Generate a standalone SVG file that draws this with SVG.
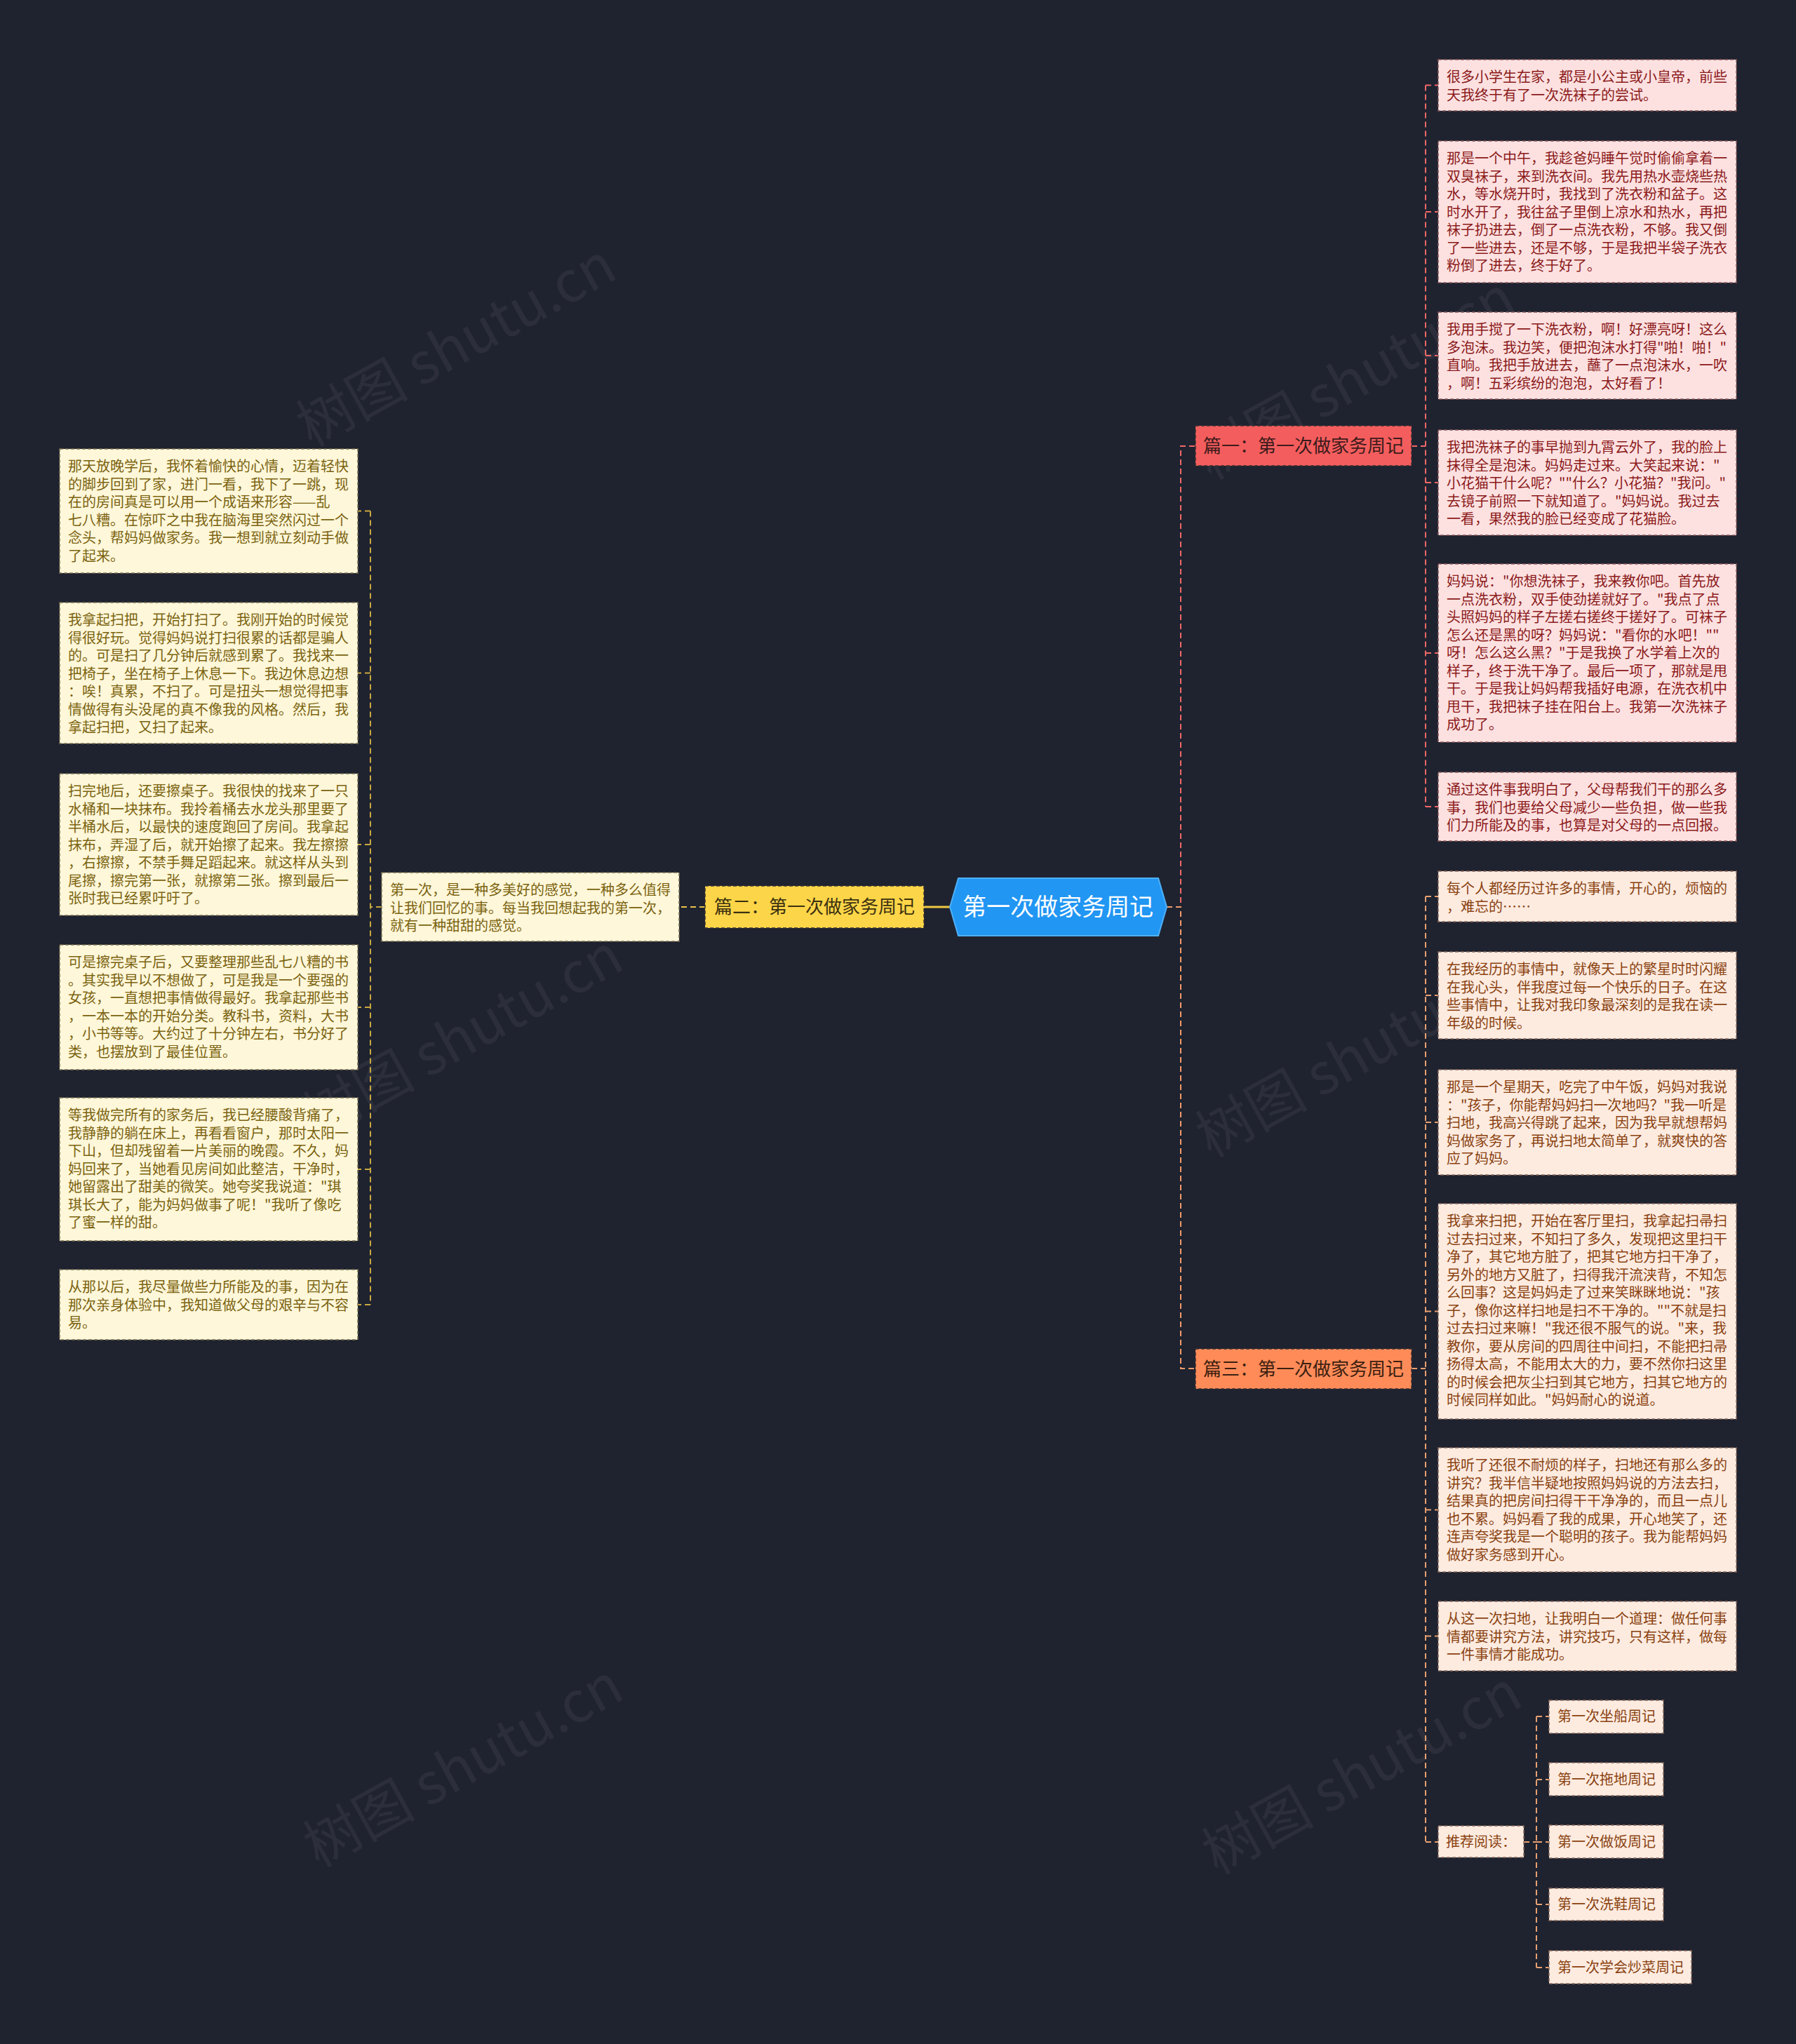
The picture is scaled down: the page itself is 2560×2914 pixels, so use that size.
<svg xmlns="http://www.w3.org/2000/svg" width="2560" height="2914" viewBox="0 0 2560 2914">
<defs>
<style>
.t{font-family:"Noto Sans CJK SC","Noto Sans",sans-serif;font-size:20px}
.pk rect{fill:#fde1e1;stroke:#8a5a5a;stroke-width:1.5;stroke-dasharray:5 3}
.pk text{fill:#8b1a1a}
.pc rect{fill:#fdebe0;stroke:#8a6a5a;stroke-width:1.5;stroke-dasharray:5 3}
.pc text{fill:#8a4210}
.cr rect{fill:#fff7d9;stroke:#7a7050;stroke-width:1.5;stroke-dasharray:5 3}
.cr text{fill:#7a6310}
.br{font-family:"Noto Sans CJK SC","Noto Sans",sans-serif;font-size:26px;text-anchor:middle}
.brr{stroke:#3a3030;stroke-width:1.5;stroke-dasharray:5 3}
.c{fill:none;stroke-width:2;stroke-dasharray:8 5}
.wm{font-family:"Noto Sans CJK SC","Noto Sans",sans-serif;font-size:80px;fill:#b0b0b0;fill-opacity:0.09}
</style>
</defs>
<rect width="2560" height="2914" fill="#1f2330"/>

<g id="watermarks">
<text class="wm" x="650" y="520" text-anchor="middle" transform="rotate(-29 650 492)">树图 shutu.cn</text>
<text class="wm" x="660" y="1505" text-anchor="middle" transform="rotate(-29 660 1477)">树图 shutu.cn</text>
<text class="wm" x="660" y="2545" text-anchor="middle" transform="rotate(-29 660 2517)">树图 shutu.cn</text>
<text class="wm" x="1932" y="567" text-anchor="middle" transform="rotate(-29 1932 539)">树图 shutu.cn</text>
<text class="wm" x="1932" y="1533" text-anchor="middle" transform="rotate(-29 1932 1505)">树图 shutu.cn</text>
<text class="wm" x="1941" y="2555" text-anchor="middle" transform="rotate(-29 1941 2527)">树图 shutu.cn</text>
</g>

<g id="connectors">
<path d="M1317,1293 H1354" fill="none" stroke="#f0c940" stroke-width="3"/>
<path class="c" d="M1005,1293 H968" stroke="#e8c24a"/>
<path class="c" d="M544,1293 H528 M528,728.5 V1860 M528,728.5 H510 M528,959.5 H510 M528,1204 H510 M528,1436 H510 M528,1667 H510 M528,1860 H510" stroke="#c8a840"/>
<path class="c" d="M1663,1293 H1683 V636 H1704" stroke="#f06868"/>
<path class="c" d="M1663,1293 H1683 V1951 H1704" stroke="#f29a6a"/>
<path class="c" d="M2012,636 H2032 M2032,121.5 V1150 M2032,121.5 H2050 M2032,302 H2050 M2032,507 H2050 M2032,688 H2050 M2032,931 H2050 M2032,1150 H2050" stroke="#f06868"/>
<path class="c" d="M2012,1951 H2032 M2032,1278 V2626 M2032,1278 H2050 M2032,1419 H2050 M2032,1600 H2050 M2032,1869.5 H2050 M2032,2152.5 H2050 M2032,2332.5 H2050 M2032,2626 H2050" stroke="#e8a070"/>
<path class="c" d="M2172,2626 H2190 M2190,2447 V2805 M2190,2447 H2208 M2190,2537 H2208 M2190,2626 H2208 M2190,2715 H2208 M2190,2805 H2208" stroke="#e8a070"/>
</g>

<g id="root">
<path d="M1366,1252 H1651 L1663,1293 L1651,1334 H1366 L1354,1293 Z" fill="#2196f3" stroke="#4fb0f8" stroke-width="2"/>
<text x="1508" y="1305" font-family="'Noto Sans CJK SC','Noto Sans',sans-serif" font-size="34" fill="#ffffff" text-anchor="middle">第一次做家务周记</text>
</g>

<g id="branch1">
<rect class="brr" x="1704" y="607" width="308" height="57" fill="#f45d5d"/>
<text class="br" x="1858" y="645" fill="#3b1b1b">篇一：第一次做家务周记</text>
</g>
<g id="branch2">
<rect class="brr" x="1005" y="1263" width="312" height="60" fill="#fdd548"/>
<text class="br" x="1161" y="1302" fill="#3b3010">篇二：第一次做家务周记</text>
</g>
<g id="branch3">
<rect class="brr" x="1704" y="1923" width="308" height="57" fill="#ff8b58"/>
<text class="br" x="1858" y="1961" fill="#3b2010">篇三：第一次做家务周记</text>
</g>

<g id="b2-intro" class="cr">
<rect x="544" y="1244" width="424" height="98"/>
<text class="t"><tspan x="556" y="1276">第一次，是一种多美好的感觉，一种多么值得</tspan><tspan x="556" y="1301.5">让我们回忆的事。每当我回想起我的第一次，</tspan><tspan x="556" y="1327">就有一种甜甜的感觉。</tspan></text>
</g>

<g id="l1" class="cr">
<rect x="85" y="640" width="425" height="177"/>
<text class="t"><tspan x="97" y="672">那天放晚学后，我怀着愉快的心情，迈着轻快</tspan><tspan x="97" y="697.5">的脚步回到了家，进门一看，我下了一跳，现</tspan><tspan x="97" y="723">在的房间真是可以用一个成语来形容——乱</tspan><tspan x="97" y="748.5">七八糟。在惊吓之中我在脑海里突然闪过一个</tspan><tspan x="97" y="774">念头，帮妈妈做家务。我一想到就立刻动手做</tspan><tspan x="97" y="799.5">了起来。</tspan></text>
</g>
<g id="l2" class="cr">
<rect x="85" y="859" width="425" height="201"/>
<text class="t"><tspan x="97" y="891">我拿起扫把，开始打扫了。我刚开始的时候觉</tspan><tspan x="97" y="916.5">得很好玩。觉得妈妈说打扫很累的话都是骗人</tspan><tspan x="97" y="942">的。可是扫了几分钟后就感到累了。我找来一</tspan><tspan x="97" y="967.5">把椅子，坐在椅子上休息一下。我边休息边想</tspan><tspan x="97" y="993">：唉！真累，不扫了。可是扭头一想觉得把事</tspan><tspan x="97" y="1018.5">情做得有头没尾的真不像我的风格。然后，我</tspan><tspan x="97" y="1044">拿起扫把，又扫了起来。</tspan></text>
</g>
<g id="l3" class="cr">
<rect x="85" y="1103" width="425" height="202"/>
<text class="t"><tspan x="97" y="1135">扫完地后，还要擦桌子。我很快的找来了一只</tspan><tspan x="97" y="1160.5">水桶和一块抹布。我拎着桶去水龙头那里要了</tspan><tspan x="97" y="1186">半桶水后，以最快的速度跑回了房间。我拿起</tspan><tspan x="97" y="1211.5">抹布，弄湿了后，就开始擦了起来。我左擦擦</tspan><tspan x="97" y="1237">，右擦擦，不禁手舞足蹈起来。就这样从头到</tspan><tspan x="97" y="1262.5">尾擦，擦完第一张，就擦第二张。擦到最后一</tspan><tspan x="97" y="1288">张时我已经累吁吁了。</tspan></text>
</g>
<g id="l4" class="cr">
<rect x="85" y="1347" width="425" height="178"/>
<text class="t"><tspan x="97" y="1379">可是擦完桌子后，又要整理那些乱七八糟的书</tspan><tspan x="97" y="1404.5">。其实我早以不想做了，可是我是一个要强的</tspan><tspan x="97" y="1430">女孩，一直想把事情做得最好。我拿起那些书</tspan><tspan x="97" y="1455.5">，一本一本的开始分类。教科书，资料，大书</tspan><tspan x="97" y="1481">，小书等等。大约过了十分钟左右，书分好了</tspan><tspan x="97" y="1506.5">类，也摆放到了最佳位置。</tspan></text>
</g>
<g id="l5" class="cr">
<rect x="85" y="1565" width="425" height="204"/>
<text class="t"><tspan x="97" y="1597">等我做完所有的家务后，我已经腰酸背痛了，</tspan><tspan x="97" y="1622.5">我静静的躺在床上，再看看窗户，那时太阳一</tspan><tspan x="97" y="1648">下山，但却残留着一片美丽的晚霞。不久，妈</tspan><tspan x="97" y="1673.5">妈回来了，当她看见房间如此整洁，干净时，</tspan><tspan x="97" y="1699">她留露出了甜美的微笑。她夸奖我说道："琪</tspan><tspan x="97" y="1724.5">琪长大了，能为妈妈做事了呢！"我听了像吃</tspan><tspan x="97" y="1750">了蜜一样的甜。</tspan></text>
</g>
<g id="l6" class="cr">
<rect x="85" y="1810" width="425" height="100"/>
<text class="t"><tspan x="97" y="1842">从那以后，我尽量做些力所能及的事，因为在</tspan><tspan x="97" y="1867.5">那次亲身体验中，我知道做父母的艰辛与不容</tspan><tspan x="97" y="1893">易。</tspan></text>
</g>

<g id="c1" class="pk">
<rect x="2050" y="85" width="425" height="73"/>
<text class="t"><tspan x="2062" y="117">很多小学生在家，都是小公主或小皇帝，前些</tspan><tspan x="2062" y="142.5">天我终于有了一次洗袜子的尝试。</tspan></text>
</g>
<g id="c2" class="pk">
<rect x="2050" y="201" width="425" height="202"/>
<text class="t"><tspan x="2062" y="233">那是一个中午，我趁爸妈睡午觉时偷偷拿着一</tspan><tspan x="2062" y="258.5">双臭袜子，来到洗衣间。我先用热水壶烧些热</tspan><tspan x="2062" y="284">水，等水烧开时，我找到了洗衣粉和盆子。这</tspan><tspan x="2062" y="309.5">时水开了，我往盆子里倒上凉水和热水，再把</tspan><tspan x="2062" y="335">袜子扔进去，倒了一点洗衣粉，不够。我又倒</tspan><tspan x="2062" y="360.5">了一些进去，还是不够，于是我把半袋子洗衣</tspan><tspan x="2062" y="386">粉倒了进去，终于好了。</tspan></text>
</g>
<g id="c3" class="pk">
<rect x="2050" y="445" width="425" height="124"/>
<text class="t"><tspan x="2062" y="477">我用手搅了一下洗衣粉，啊！好漂亮呀！这么</tspan><tspan x="2062" y="502.5">多泡沫。我边笑，便把泡沫水打得"啪！啪！"</tspan><tspan x="2062" y="528">直响。我把手放进去，蘸了一点泡沫水，一吹</tspan><tspan x="2062" y="553.5">，啊！五彩缤纷的泡泡，太好看了！</tspan></text>
</g>
<g id="c4" class="pk">
<rect x="2050" y="613" width="425" height="150"/>
<text class="t"><tspan x="2062" y="645">我把洗袜子的事早抛到九霄云外了，我的脸上</tspan><tspan x="2062" y="670.5">抹得全是泡沫。妈妈走过来。大笑起来说："</tspan><tspan x="2062" y="696">小花猫干什么呢？""什么？小花猫？"我问。"</tspan><tspan x="2062" y="721.5">去镜子前照一下就知道了。"妈妈说。我过去</tspan><tspan x="2062" y="747">一看，果然我的脸已经变成了花猫脸。</tspan></text>
</g>
<g id="c5" class="pk">
<rect x="2050" y="804" width="425" height="254"/>
<text class="t"><tspan x="2062" y="836">妈妈说："你想洗袜子，我来教你吧。首先放</tspan><tspan x="2062" y="861.5">一点洗衣粉，双手使劲搓就好了。"我点了点</tspan><tspan x="2062" y="887">头照妈妈的样子左搓右搓终于搓好了。可袜子</tspan><tspan x="2062" y="912.5">怎么还是黑的呀？妈妈说："看你的水吧！""</tspan><tspan x="2062" y="938">呀！怎么这么黑？"于是我换了水学着上次的</tspan><tspan x="2062" y="963.5">样子，终于洗干净了。最后一项了，那就是甩</tspan><tspan x="2062" y="989">干。于是我让妈妈帮我插好电源，在洗衣机中</tspan><tspan x="2062" y="1014.5">甩干，我把袜子挂在阳台上。我第一次洗袜子</tspan><tspan x="2062" y="1040">成功了。</tspan></text>
</g>
<g id="c6" class="pk">
<rect x="2050" y="1101" width="425" height="98"/>
<text class="t"><tspan x="2062" y="1133">通过这件事我明白了，父母帮我们干的那么多</tspan><tspan x="2062" y="1158.5">事，我们也要给父母减少一些负担，做一些我</tspan><tspan x="2062" y="1184">们力所能及的事，也算是对父母的一点回报。</tspan></text>
</g>

<g id="d1" class="pc">
<rect x="2050" y="1242" width="425" height="72"/>
<text class="t"><tspan x="2062" y="1274">每个人都经历过许多的事情，开心的，烦恼的</tspan><tspan x="2062" y="1299.5">，难忘的……</tspan></text>
</g>
<g id="d2" class="pc">
<rect x="2050" y="1357" width="425" height="124"/>
<text class="t"><tspan x="2062" y="1389">在我经历的事情中，就像天上的繁星时时闪耀</tspan><tspan x="2062" y="1414.5">在我心头，伴我度过每一个快乐的日子。在这</tspan><tspan x="2062" y="1440">些事情中，让我对我印象最深刻的是我在读一</tspan><tspan x="2062" y="1465.5">年级的时候。</tspan></text>
</g>
<g id="d3" class="pc">
<rect x="2050" y="1525" width="425" height="150"/>
<text class="t"><tspan x="2062" y="1557">那是一个星期天，吃完了中午饭，妈妈对我说</tspan><tspan x="2062" y="1582.5">："孩子，你能帮妈妈扫一次地吗？"我一听是</tspan><tspan x="2062" y="1608">扫地，我高兴得跳了起来，因为我早就想帮妈</tspan><tspan x="2062" y="1633.5">妈做家务了，再说扫地太简单了，就爽快的答</tspan><tspan x="2062" y="1659">应了妈妈。</tspan></text>
</g>
<g id="d4" class="pc">
<rect x="2050" y="1716" width="425" height="307"/>
<text class="t"><tspan x="2062" y="1748">我拿来扫把，开始在客厅里扫，我拿起扫帚扫</tspan><tspan x="2062" y="1773.5">过去扫过来，不知扫了多久，发现把这里扫干</tspan><tspan x="2062" y="1799">净了，其它地方脏了，把其它地方扫干净了，</tspan><tspan x="2062" y="1824.5">另外的地方又脏了，扫得我汗流浃背，不知怎</tspan><tspan x="2062" y="1850">么回事？这是妈妈走了过来笑眯眯地说："孩</tspan><tspan x="2062" y="1875.5">子，像你这样扫地是扫不干净的。""不就是扫</tspan><tspan x="2062" y="1901">过去扫过来嘛！"我还很不服气的说。"来，我</tspan><tspan x="2062" y="1926.5">教你，要从房间的四周往中间扫，不能把扫帚</tspan><tspan x="2062" y="1952">扬得太高，不能用太大的力，要不然你扫这里</tspan><tspan x="2062" y="1977.5">的时候会把灰尘扫到其它地方，扫其它地方的</tspan><tspan x="2062" y="2003">时候同样如此。"妈妈耐心的说道。</tspan></text>
</g>
<g id="d5" class="pc">
<rect x="2050" y="2064" width="425" height="177"/>
<text class="t"><tspan x="2062" y="2096">我听了还很不耐烦的样子，扫地还有那么多的</tspan><tspan x="2062" y="2121.5">讲究？我半信半疑地按照妈妈说的方法去扫，</tspan><tspan x="2062" y="2147">结果真的把房间扫得干干净净的，而且一点儿</tspan><tspan x="2062" y="2172.5">也不累。妈妈看了我的成果，开心地笑了，还</tspan><tspan x="2062" y="2198">连声夸奖我是一个聪明的孩子。我为能帮妈妈</tspan><tspan x="2062" y="2223.5">做好家务感到开心。</tspan></text>
</g>
<g id="d6" class="pc">
<rect x="2050" y="2283" width="425" height="99"/>
<text class="t"><tspan x="2062" y="2315">从这一次扫地，让我明白一个道理：做任何事</tspan><tspan x="2062" y="2340.5">情都要讲究方法，讲究技巧，只有这样，做每</tspan><tspan x="2062" y="2366">一件事情才能成功。</tspan></text>
</g>

<g id="rec" class="pc">
<rect x="2050" y="2603" width="122" height="45"/>
<text class="t" x="2061" y="2633">推荐阅读：</text>
</g>
<g id="rec1" class="pc">
<rect x="2208" y="2424" width="163" height="47"/>
<text class="t" x="2220" y="2454">第一次坐船周记</text>
</g>
<g id="rec2" class="pc">
<rect x="2208" y="2513" width="163" height="47"/>
<text class="t" x="2220" y="2544">第一次拖地周记</text>
</g>
<g id="rec3" class="pc">
<rect x="2208" y="2602" width="163" height="47"/>
<text class="t" x="2220" y="2633">第一次做饭周记</text>
</g>
<g id="rec4" class="pc">
<rect x="2208" y="2692" width="163" height="46"/>
<text class="t" x="2220" y="2722">第一次洗鞋周记</text>
</g>
<g id="rec5" class="pc">
<rect x="2208" y="2781" width="203" height="47"/>
<text class="t" x="2220" y="2812">第一次学会炒菜周记</text>
</g>
</svg>
